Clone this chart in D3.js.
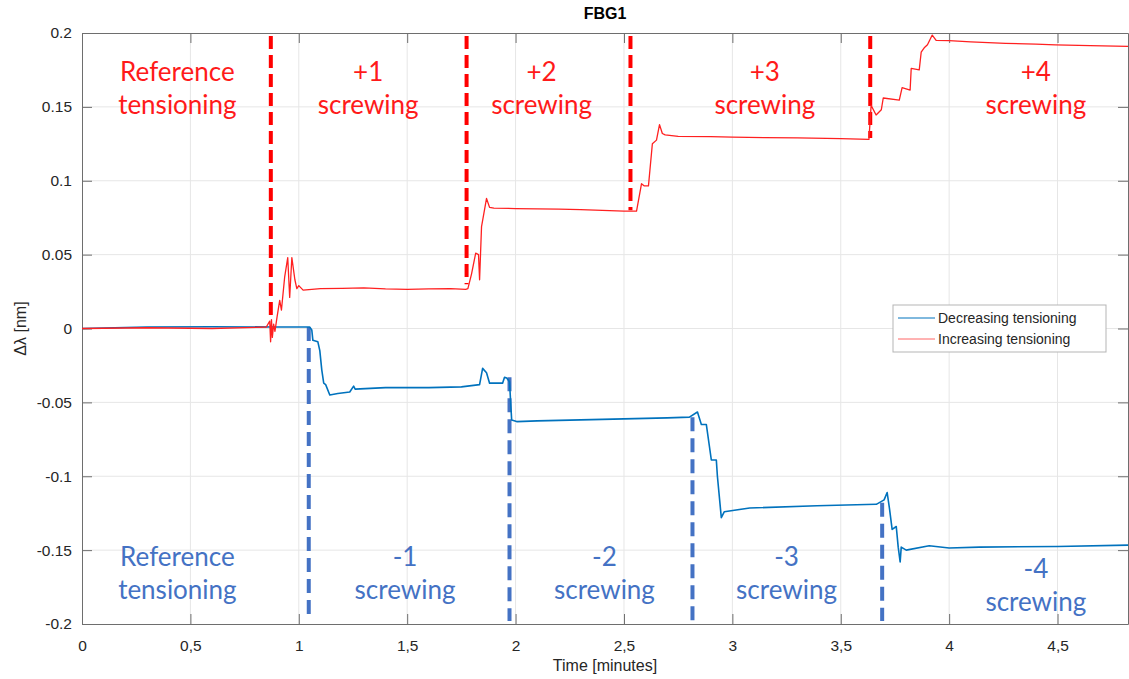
<!DOCTYPE html>
<html>
<head>
<meta charset="utf-8">
<script src="https://cdn.jsdelivr.net/npm/d3@7"></script>
<style>
  body { margin: 0; background: #fff; }
  svg { display: block; }
  .tick text { font-family: "Liberation Sans", Arial, sans-serif; font-size: 15.5px; fill: #262626; }
</style>
</head>
<body>
<div id="chart"></div>
<script>
// increasing tensioning (red): [time in minutes, delta lambda in nm]
var increasingT = [0, 0.3, 0.6, 0.85, 0.866, 0.870, 0.874, 0.878, 0.884, 0.89, 0.9, 0.912, 0.92, 0.935, 0.949, 0.958, 0.968, 0.982, 0.991, 1.0, 1.02, 1.1, 1.2, 1.3, 1.4, 1.5, 1.6, 1.7, 1.77, 1.78, 1.797, 1.816, 1.829, 1.834, 1.843, 1.866, 1.88, 1.9, 2.0, 2.1, 2.2, 2.3, 2.4, 2.5, 2.558, 2.581, 2.594, 2.613, 2.631, 2.65, 2.664, 2.677, 2.69, 2.75, 2.9, 3.0, 3.15, 3.3, 3.5, 3.63, 3.64, 3.663, 3.687, 3.696, 3.77, 3.783, 3.82, 3.825, 3.862, 3.871, 3.885, 3.9, 3.922, 3.94, 4.0, 4.1, 4.26, 4.4, 4.49, 4.65, 4.825];
var increasingV = [0, 0.0005, 0, 0.001, 0.005, -0.009, 0.006, -0.006, 0.003, -0.002, 0.008, 0.019, 0.0125, 0.035, 0.048, 0.021, 0.048, 0.033, 0.027, 0.029, 0.026, 0.027, 0.0272, 0.0275, 0.0268, 0.0265, 0.0268, 0.027, 0.0265, 0.027, 0.037, 0.051, 0.05, 0.033, 0.069, 0.088, 0.082, 0.0815, 0.0812, 0.081, 0.0808, 0.0805, 0.08, 0.0795, 0.0795, 0.098, 0.0965, 0.0965, 0.125, 0.1275, 0.138, 0.132, 0.131, 0.130, 0.1298, 0.1295, 0.1292, 0.129, 0.1285, 0.128, 0.151, 0.1445, 0.148, 0.156, 0.1546, 0.163, 0.1614, 0.176, 0.175, 0.187, 0.19, 0.192, 0.1986, 0.195, 0.1948, 0.194, 0.193, 0.1925, 0.192, 0.1915, 0.191];

// decreasing tensioning (blue)
var decreasingT = [0, 0.3, 0.6, 0.9, 1.05, 1.06, 1.065, 1.088, 1.097, 1.106, 1.115, 1.124, 1.143, 1.18, 1.235, 1.253, 1.26, 1.4, 1.6, 1.75, 1.834, 1.848, 1.866, 1.88, 1.94, 1.949, 1.959, 1.972, 1.982, 2.005, 2.1, 2.4, 2.7, 2.802, 2.839, 2.857, 2.88, 2.903, 2.926, 2.931, 2.949, 2.963, 3.08, 3.39, 3.664, 3.7, 3.714, 3.724, 3.737, 3.756, 3.765, 3.774, 3.779, 3.802, 3.908, 4.0, 4.14, 4.5, 4.825];
var decreasingV = [0, 0.001, 0.0012, 0.001, 0.001, -0.001, -0.008, -0.009, -0.015, -0.028, -0.037, -0.038, -0.045, -0.044, -0.043, -0.039, -0.041, -0.040, -0.040, -0.0395, -0.038, -0.027, -0.030, -0.037, -0.037, -0.033, -0.0335, -0.036, -0.062, -0.063, -0.0625, -0.0615, -0.0605, -0.06, -0.0565, -0.065, -0.065, -0.089, -0.089, -0.1, -0.128, -0.124, -0.1215, -0.12, -0.119, -0.116, -0.111, -0.121, -0.136, -0.134, -0.148, -0.158, -0.148, -0.15, -0.147, -0.1486, -0.148, -0.1475, -0.1466];

// screwing marks (minutes)
var redMarks = [0.871, 1.774, 2.530, 3.636];
var redMarkTop = [0.006, 0.030, 0.080, 0.129];
var blueMarks = [1.046, 1.972, 2.816, 3.691];
var blueMarkTop = [0.001, -0.033, -0.060, -0.118];

// phase labels
var redLabels = [["Reference", "tensioning"], ["+1", "screwing"], ["+2", "screwing"], ["+3", "screwing"], ["+4", "screwing"]];
var redLabelX = [0.44, 1.32, 2.12, 3.15, 4.40];
var blueLabels = [["Reference", "tensioning"], ["-1", "screwing"], ["-2", "screwing"], ["-3", "screwing"], ["-4", "screwing"]];
var blueLabelX = [0.44, 1.49, 2.41, 3.25, 4.40];

var xTicks = [0, 0.5, 1, 1.5, 2, 2.5, 3, 3.5, 4, 4.5];
var yTicks = [-0.2, -0.15, -0.1, -0.05, 0, 0.05, 0.1, 0.15, 0.2];

var width = 1129, height = 679;
var margin = {left: 82, right: 1, top: 33, bottom: 55};

var x = d3.scaleLinear().domain([0, 4.825]).range([margin.left, width - margin.right]);
var y = d3.scaleLinear().domain([-0.2, 0.2]).range([height - margin.bottom, margin.top]);

var svg = d3.select("#chart").append("svg")
    .attr("width", width)
    .attr("height", height);

// grid
svg.append("g").selectAll("line").data(xTicks.slice(1)).enter().append("line")
    .attr("x1", d => x(d)).attr("x2", d => x(d))
    .attr("y1", y(0.2)).attr("y2", y(-0.2))
    .attr("stroke", "#e6e6e6").attr("stroke-width", 1);
svg.append("g").selectAll("line").data(yTicks.slice(1, -1)).enter().append("line")
    .attr("x1", x(0)).attr("x2", x.range()[1])
    .attr("y1", d => y(d)).attr("y2", d => y(d))
    .attr("stroke", "#e6e6e6").attr("stroke-width", 1);

// axes (ticks pointing inward, matlab style)
var fmtX = function(d) { return String(d).replace(".", ","); };
var xAxis = svg.append("g").attr("transform", "translate(0," + y(-0.2) + ")")
    .call(d3.axisBottom(x).tickValues(xTicks).tickFormat(fmtX).tickSizeInner(-10).tickSizeOuter(0).tickPadding(16));
var xTop = svg.append("g").attr("transform", "translate(0," + y(0.2) + ")")
    .call(d3.axisTop(x).tickValues(xTicks).tickFormat("").tickSizeInner(-10).tickSizeOuter(0));
var yAxis = svg.append("g").attr("transform", "translate(" + x(0) + ",0)")
    .call(d3.axisLeft(y).tickValues(yTicks).tickFormat(d3.format("~g")).tickSizeInner(-10).tickSizeOuter(0).tickPadding(10));
var yRight = svg.append("g").attr("transform", "translate(" + (width - margin.right) + ",0)")
    .call(d3.axisRight(y).tickValues(yTicks).tickFormat("").tickSizeInner(-10).tickSizeOuter(0));
[xAxis, xTop, yAxis, yRight].forEach(function(g) {
    g.selectAll(".domain").attr("stroke", "#6e6e6e");
    g.selectAll(".tick line").attr("stroke", "#6e6e6e");
});
yAxis.selectAll(".tick text").text(function(d) { return d3.format("~g")(d).replace("−", "-"); });

var line = d3.line().x(d => x(d[0])).y(d => y(d[1]));

// dashed screwing marks
svg.append("g").selectAll("line").data(redMarks).enter().append("line")
    .attr("x1", d => x(d)).attr("x2", d => x(d))
    .attr("y1", y(0.2) + 3).attr("y2", (d, i) => y(redMarkTop[i]))
    .attr("stroke", "#ff0000").attr("stroke-width", 4).attr("stroke-dasharray", "13,6");
svg.append("g").selectAll("line").data(blueMarks).enter().append("line")
    .attr("x1", d => x(d)).attr("x2", d => x(d))
    .attr("y1", (d, i) => y(blueMarkTop[i])).attr("y2", y(-0.2) - 3)
    .attr("stroke", "#4472c4").attr("stroke-width", 4).attr("stroke-dasharray", "14,7");

// series
svg.append("path")
    .datum(decreasingT.map((t, i) => [t, decreasingV[i]]))
    .attr("fill", "none").attr("stroke", "#0072bd").attr("stroke-width", 1.6)
    .attr("stroke-linejoin", "round")
    .attr("d", line);
svg.append("path")
    .datum(increasingT.map((t, i) => [t, increasingV[i]]))
    .attr("fill", "none").attr("stroke", "#ff2020").attr("stroke-width", 1.3)
    .attr("stroke-linejoin", "round")
    .attr("d", line);

// phase labels
function drawLabels(labels, xs, color, y1) {
    var g = svg.append("g")
        .attr("font-family", "Lato, 'Open Sans', sans-serif")
        .attr("font-size", 26)
        .attr("fill", color)
        .attr("text-anchor", "middle");
    labels.forEach(function(l, i) {
        var yy = Array.isArray(y1) ? y1[i] : y1;
        g.append("text").attr("x", x(xs[i])).attr("y", yy).text(l[0]);
        g.append("text").attr("x", x(xs[i])).attr("y", yy + 33).text(l[1]);
    });
}
drawLabels(redLabels, redLabelX, "#ff1a1a", 81);
drawLabels(blueLabels, blueLabelX, "#4472c4", [566, 566, 566, 566, 578]);

// title and axis labels
svg.append("text").attr("x", 605).attr("y", 19)
    .attr("text-anchor", "middle")
    .attr("font-family", "'Liberation Sans', Arial, sans-serif")
    .attr("font-size", 16).attr("font-weight", "bold").attr("fill", "#000")
    .text("FBG1");
svg.append("text").attr("x", 605).attr("y", 671)
    .attr("text-anchor", "middle")
    .attr("font-family", "'Liberation Sans', Arial, sans-serif")
    .attr("font-size", 16).attr("fill", "#262626")
    .text("Time [minutes]");
svg.append("text")
    .attr("transform", "translate(26," + y(0) + ") rotate(-90)")
    .attr("text-anchor", "middle")
    .attr("font-family", "'Liberation Sans', Arial, sans-serif")
    .attr("font-size", 16).attr("fill", "#262626")
    .text("Δλ [nm]");

// legend
var legend = svg.append("g").attr("transform", "translate(893,305)");
legend.append("rect").attr("width", 213).attr("height", 47)
    .attr("fill", "#fff").attr("stroke", "#b5b5b5").attr("stroke-width", 1);
var legendItems = [["Decreasing tensioning", "#0072bd"], ["Increasing tensioning", "#ff6666"]];
legendItems.forEach(function(item, i) {
    var ly = 13 + i * 21;
    legend.append("line").attr("x1", 5).attr("x2", 42).attr("y1", ly).attr("y2", ly)
        .attr("stroke", item[1]).attr("stroke-width", 1);
    legend.append("text").attr("x", 45).attr("y", ly + 5)
        .attr("font-family", "'Liberation Sans', Arial, sans-serif")
        .attr("font-size", 14).attr("fill", "#262626")
        .text(item[0]);
});
</script>
</body>
</html>
